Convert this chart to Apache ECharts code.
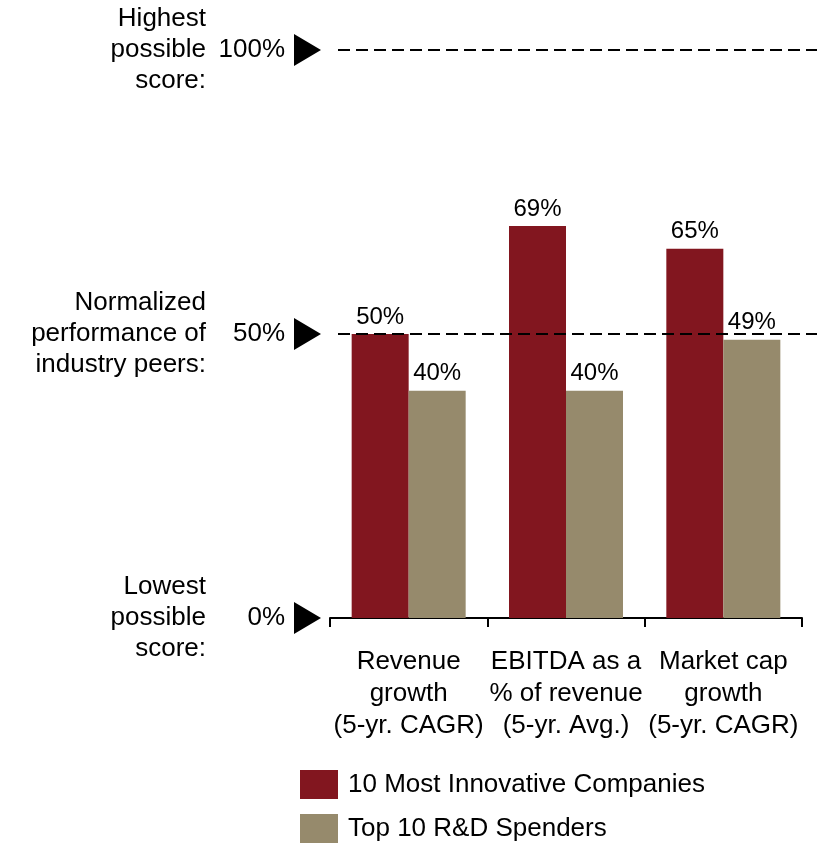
<!DOCTYPE html>
<html><head><meta charset="utf-8">
<script src="https://cdn.jsdelivr.net/npm/echarts@6/dist/echarts.min.js"></script>
<style>html,body{margin:0;padding:0;background:#fff}#c{width:817px;height:843px}</style>
</head><body><div id="c"></div>
<script>
const categories = ['Revenue\ngrowth\n(5-yr. CAGR)', 'EBITDA as a\n% of revenue\n(5-yr. Avg.)', 'Market cap\ngrowth\n(5-yr. CAGR)'];
const innovative = [50, 69, 65];
const spenders = [40, 40, 49];
const seriesNames = ['10 Most Innovative Companies', 'Top 10 R&D Spenders'];
const refLevels = [0, 50, 100];
const refTexts = ['Lowest\npossible\nscore:', 'Normalized\nperformance of\nindustry peers:', 'Highest\npossible\nscore:'];
const dashedLevels = [50, 100];

const FONT = "'Liberation Sans', Arial, sans-serif";
const RED = '#82161F', TAN = '#968A6C';

const chart = echarts.init(document.getElementById('c'), null, {renderer: 'canvas'});
const labelStyle = {show: true, position: 'top', distance: 5, formatter: '{c}%', fontSize: 24, fontFamily: FONT, color: '#000'};
const legendBase = {
  orient: 'vertical', left: 300, padding: 0, itemWidth: 38, itemHeight: 29, itemGap: 15, icon: 'rect',
  textStyle: {fontSize: 26, fontFamily: FONT, color: '#000', padding: [0, 0, 0, 5]}
};
chart.setOption({
  animation: false,
  backgroundColor: '#fff',
  grid: {left: 330, right: 15, top: 50, bottom: 225, containLabel: false},
  legend: [
    Object.assign({}, legendBase, {top: 770, data: [seriesNames[0]]}),
    Object.assign({}, legendBase, {top: 814, data: [seriesNames[1]]})
  ],
  xAxis: {
    type: 'category', data: categories,
    axisLine: {lineStyle: {color: '#000', width: 2}},
    axisTick: {show: true, length: 9, lineStyle: {color: '#000', width: 2}},
    axisLabel: {fontSize: 26, fontFamily: FONT, color: '#000', lineHeight: 32, margin: 28, interval: 0}
  },
  yAxis: {
    type: 'value', min: 0, max: 100, interval: 50,
    axisLine: {show: false}, axisTick: {show: false}, splitLine: {show: false},
    axisLabel: {formatter: '{value}%', fontSize: 26, fontFamily: FONT, color: '#000', margin: 45}
  },
  series: [
    {name: seriesNames[0], type: 'bar', data: innovative, barWidth: 57, barGap: '0%', itemStyle: {color: RED}, label: labelStyle},
    {name: seriesNames[1], type: 'bar', data: spenders, barWidth: 57, barGap: '0%', itemStyle: {color: TAN}, label: labelStyle}
  ]
});

const graphics = [];
refLevels.forEach((lv, i) => {
  const y = chart.convertToPixel({yAxisIndex: 0}, lv);
  graphics.push({type: 'polygon', shape: {points: [[294, y - 16], [321, y], [294, y + 16]]}, style: {fill: '#000'}});
  graphics.push({type: 'text', style: {text: refTexts[i], x: 206, y: y, textAlign: 'right', textVerticalAlign: 'middle', font: '26px ' + FONT, fill: '#000', lineHeight: 31}});
});
dashedLevels.forEach(lv => {
  const y = chart.convertToPixel({yAxisIndex: 0}, lv);
  graphics.push({type: 'line', z: 10, shape: {x1: 338, y1: y, x2: 817, y2: y}, style: {stroke: '#000', lineWidth: 2, lineDash: [12, 6]}});
});
chart.setOption({graphic: graphics});
</script></body></html>
